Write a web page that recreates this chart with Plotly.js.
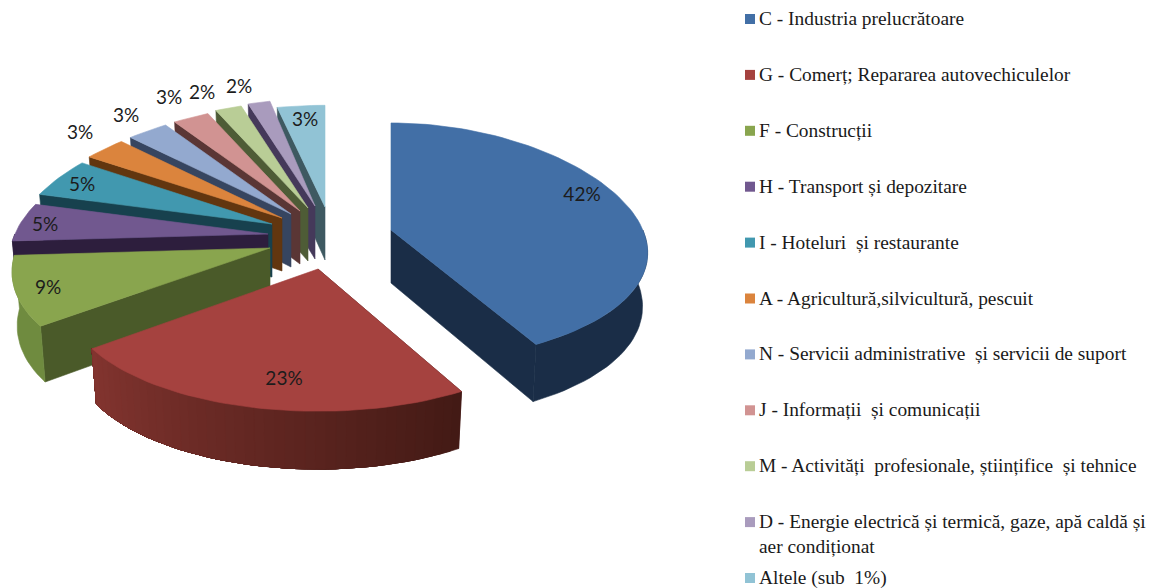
<!DOCTYPE html>
<html><head><meta charset="utf-8">
<script src="https://cdn.plot.ly/plotly-3.0.1.min.js"></script>
<style>html,body{margin:0;padding:0;background:#fff}#c{width:1162px;height:588px}</style>
</head><body><div id="c"></div>
<script>
// ---- data ----
const categories = ["C - Industria prelucrătoare","G - Comerț; Repararea autovechiculelor","F - Construcții","H - Transport și depozitare","I - Hoteluri  și restaurante","A - Agricultură,silvicultură, pescuit","N - Servicii administrative  și servicii de suport","J - Informații  și comunicații","M - Activități  profesionale, științifice  și tehnice","D - Energie electrică și termică, gaze, apă caldă și<br>aer condiționat","Altele (sub  1%)"];
const values = [41.8,23.2,9,5,5,3,3,2.7,2.0,1.7,3.49];
// ---- styles ----
const topColors = ["#426fa6","#a5423f","#89a54e","#71588f","#4198af","#db843d","#93a9cf","#d19392","#b9cd96","#a99bbd","#91c3d5"];
const sideLeft  = ["#1a2d47","#82342f","#6f8b3f","#2d1e3d","#17414e","#62360f","#364560","#5a3635","#4e5c36","#45395a","#3e5961"];
const sideRight = ["#1a2d47","#431a15","#6f8b3f","#2d1e3d","#17414e","#62360f","#364560","#5a3635","#4e5c36","#45395a","#3e5961"];
const radialCol = ["#1a2d47","#431a15","#4a5a29","#2d1e3d","#17414e","#62360f","#364560","#5a3635","#4e5c36","#45395a","#3e5961"];
// ---- layout of the exploded 3D projection ----
const apexX = [391,318,270,268,272,282,291,300,308,315,325];
const apexY = [230,269,248,234,224,218,214,211,208,206,207];
const scaleX = [0.98,0.97,0.985,0.985,0.985,1,1,1,1,1,1.06];
const scaleY = [1,1.07,1.05,1,1,1,1,1,1,1,0.95];
const labelX = [582,284,48,45,82,80,126,169,202,239,305];
const labelY = [196,380,289,226,186,134,117,99,94,88,121];
const paintOrder = [10,9,8,7,6,5,4,3,2,0,1];
const RX=257, RY=120, PX=0.2, PY=0.108, DEPTH=53;
const legendX=750, legendFirstY=19, legendStep=55.9;

const total = values.reduce((a,b)=>a+b,0);
const starts=[]; let acc=0; values.forEach(v=>{starts.push(acc/total*360);acc+=v;});

function project(i,deg){
  const t=deg*Math.PI/180,u=Math.sin(t),v=-Math.cos(t);
  return {x:apexX[i]+scaleX[i]*RX*u*(1+PX*v), y:apexY[i]+scaleY[i]*RY*v*(1+PY*v), v};
}
function lower(i,p){ return {x:apexX[i]+(p.x-apexX[i])*0.98, y:p.y+DEPTH*(1+0.09*p.v)}; }
function mix(a,b,f){
  const pa=[1,3,5].map(k=>parseInt(a.substr(k,2),16)),pb=[1,3,5].map(k=>parseInt(b.substr(k,2),16));
  return "rgb("+pa.map((c,k)=>Math.round(c+(pb[k]-c)*f)).join(",")+")";
}
function poly(pts,col){
  return {type:"scatter",mode:"lines",x:pts.map(p=>p.x).concat(pts[0].x),y:pts.map(p=>p.y).concat(pts[0].y),
    fill:"toself",fillcolor:col,line:{color:col,width:0.6},hoverinfo:"skip",showlegend:false};
}
const traces=[];
paintOrder.forEach(i=>{
  const a0=starts[i],a1=a0+values[i]/total*360,mid=(a0+a1)/2,ap={x:apexX[i],y:apexY[i],v:0};
  // radial cut face that turns towards the viewer
  const rp=project(i,mid>180?a0:a1);
  traces.push(poly([ap,rp,lower(i,rp),lower(i,ap)],radialCol[i]));
  // outer wall, only the part facing the viewer
  const w0=Math.max(a0,90),w1=Math.min(a1,270);
  if(w1>w0){
    const uniform=sideLeft[i]===sideRight[i];
    const seg=uniform?1:Math.round((w1-w0)/2);
    for(let s=0;s<seg;s++){
      // each band runs on to the far end of the wall; the next band paints over it
      const d0=w0+(w1-w0)*s/seg, steps=Math.max(2,Math.ceil((w1-d0)/2));
      const pts=[];
      for(let k=0;k<=steps;k++) pts.push(project(i,d0+(w1-d0)*k/steps));
      const low=pts.map(p=>lower(i,p)).reverse();
      traces.push(poly(pts.concat(low),mix(sideRight[i],sideLeft[i],seg>1?s/(seg-1):0)));
    }
  }
  // top surface
  const n=Math.max(4,Math.ceil((a1-a0)/2)),top=[ap];
  for(let k=0;k<=n;k++) top.push(project(i,a0+(a1-a0)*k/n));
  traces.push(poly(top,topColors[i]));
});
// percentage labels
traces.push({type:"scatter",mode:"text",x:labelX,y:labelY,text:values.map(v=>Math.round(v)+"%"),
  textposition:"middle center",textfont:{family:"Lato, sans-serif",size:19,color:"#1c1c1c"},hoverinfo:"skip",showlegend:false});
// legend swatches
const legY=categories.map((c,i)=>legendFirstY+legendStep*i);
traces.push({type:"scatter",mode:"markers",x:categories.map(()=>legendX),y:legY,
  marker:{symbol:"square",size:10,color:topColors,line:{width:0}},hoverinfo:"skip",showlegend:false});
const annotations=categories.map((c,i)=>({xref:"x",yref:"y",x:758,y:legY[i]-12,text:c,showarrow:false,
  xanchor:"left",yanchor:"top",align:"left",borderpad:0,
  font:{family:"'Liberation Serif', serif",size:19.4,color:"#1a1a1a"}}));
Plotly.newPlot("c",traces,{
  width:1162,height:588,margin:{l:0,r:0,t:0,b:0},paper_bgcolor:"#fff",plot_bgcolor:"#fff",showlegend:false,
  xaxis:{range:[0,1162],visible:false,fixedrange:true},
  yaxis:{range:[588,0],visible:false,fixedrange:true},
  annotations
},{displayModeBar:false,staticPlot:true});
</script></body></html>
